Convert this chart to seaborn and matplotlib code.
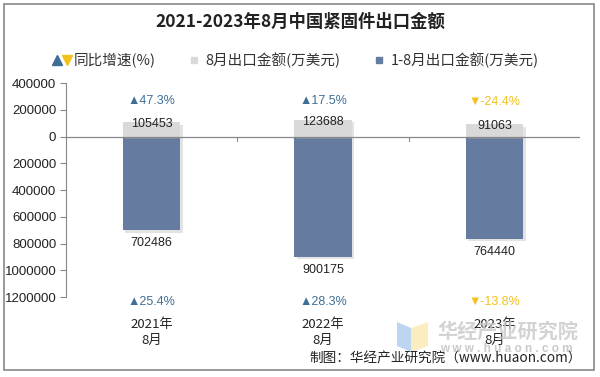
import matplotlib
matplotlib.use("Agg")
import matplotlib.pyplot as plt
import matplotlib.patheffects as pe
from matplotlib.lines import Line2D
from matplotlib.legend_handler import HandlerTuple
from matplotlib.patches import Rectangle, Polygon
import seaborn as sns
import pandas as pd

categories = ["2021年\n8月", "2022年\n8月", "2023年\n8月"]
aug_values = [105453, 123688, 91063]
ytd_values = [702486, 900175, 764440]
aug_growth = [47.3, 17.5, -24.4]
ytd_growth = [25.4, 28.3, -13.8]
yticks = [400000, 200000, 0, -200000, -400000, -600000, -800000, -1000000, -1200000]

sns.set_theme(style="white")
plt.rcParams['font.family'] = ['Liberation Sans', 'Noto Sans CJK SC', 'DejaVu Sans']
CJK = ['Noto Sans CJK SC', 'DejaVu Sans']

GRAY = "#d9d9d9"
BLUE = "#657ba0"
UP = "#3e6e96"
DOWN = "#f2c21b"

fig = plt.figure(figsize=(6.0, 3.77), dpi=100)
W, H = 600, 377
ax = fig.add_axes([66 / W, 1 - 297 / H, (580 - 66) / W, (297 - 83) / H])

df = pd.DataFrame({"cat": categories, "aug": aug_values,
                   "ytd_neg": [-v for v in ytd_values]})

shadow = [pe.SimplePatchShadow(offset=(1.8, -1.8), shadow_rgbFace="#b0b0b0", alpha=0.35), pe.Normal()]
sns.barplot(data=df, x="cat", y="ytd_neg", color=BLUE, width=0.335, ax=ax,
            saturation=1, zorder=2)
sns.barplot(data=df, x="cat", y="aug", color=GRAY, width=0.335, ax=ax,
            saturation=1, zorder=2)
for p in ax.patches:
    p.set_path_effects(shadow)
    p.set_edgecolor("none")

ax.set_ylim(-1200000, 400000)
ax.set_xlim(-0.5, len(categories) - 0.5)
ax.set_yticks(yticks)
ax.set_yticklabels([f"{abs(v)}" for v in yticks], fontsize=9.5, color="#222222")
ax.tick_params(axis='y', which='major', length=4, width=0.8, color="#888888", left=True, pad=3)
ax.tick_params(axis='x', length=0, pad=15)
ax.set_xticks(range(len(categories)))
ax.set_xticklabels(categories, fontsize=9.5, color="#222222", family=CJK, linespacing=1.3)
ax.set_xlabel("")
ax.set_ylabel("")
for s in ["top", "right", "bottom"]:
    ax.spines[s].set_visible(False)
ax.spines["left"].set_color("#888888")
ax.spines["left"].set_linewidth(0.8)
ax.axhline(0, color="#888888", lw=0.9, zorder=3)
for i in range(len(categories) - 1):
    ax.plot([i + 0.5, i + 0.5], [0, -30000], color="#888888", lw=0.8, zorder=3)

for i in range(len(categories)):
    ax.text(i, aug_values[i] - 15000, f"{aug_values[i]}", ha="center", va="center",
            fontsize=9, color="#222222", zorder=4)
    ax.text(i, -ytd_values[i] - 97000, f"{ytd_values[i]}", ha="center", va="center",
            fontsize=9, color="#222222", zorder=4)
    g = aug_growth[i]
    c = UP if g >= 0 else DOWN
    s = "▲" if g >= 0 else "▼"
    ax.text(i, 262000, f"{s}{g}%", ha="center", va="center", fontsize=9, color=c,
            family=['Liberation Sans', 'DejaVu Sans'])
    g = ytd_growth[i]
    c = UP if g >= 0 else DOWN
    s = "▲" if g >= 0 else "▼"
    ax.text(i, -1239000, f"{s}{g}%", ha="center", va="center", fontsize=9, color=c,
            family=['Liberation Sans', 'DejaVu Sans'], clip_on=False)

# title
fig.text(0.5, 1 - 22 / H, "2021-2023年8月中国紧固件出口金额", ha="center", va="center",
         fontsize=12.5, fontweight="bold", family=CJK, color="#222222")

# legend
h_tri = (Line2D([], [], marker="^", color=UP, ls="none", markersize=7),
         Line2D([], [], marker="v", color=DOWN, ls="none", markersize=7))
h_gray = Line2D([], [], marker="s", color=GRAY, ls="none", markersize=5)
h_blue = Line2D([], [], marker="s", color=BLUE, ls="none", markersize=5)
leg = fig.legend([h_tri, h_gray, h_blue], ["同比增速(%)", "8月出口金额(万美元)", "1-8月出口金额(万美元)"],
                 handler_map={tuple: HandlerTuple(ndivide=None, pad=0.1)},
                 loc="center", bbox_to_anchor=(0.493, 1 - 60 / H), ncol=3, frameon=False,
                 prop={"family": CJK, "size": 10.5}, handlelength=1.3, handletextpad=0.15,
                 columnspacing=2.0)
for t in leg.get_texts():
    t.set_color("#333333")

# watermark logo and text
fig.patches.append(Polygon([(397 / W, 1 - 322 / H), (411 / W, 1 - 328 / H), (411 / W, 1 - 352 / H), (397 / W, 1 - 346 / H)],
                           closed=True, transform=fig.transFigure, facecolor="#aecbee", edgecolor="none", alpha=0.8, zorder=0))
fig.patches.append(Polygon([(411 / W, 1 - 328 / H), (428 / W, 1 - 322 / H), (428 / W, 1 - 346 / H), (411 / W, 1 - 352 / H)],
                           closed=True, transform=fig.transFigure, facecolor="#fbe9b0", edgecolor="none", alpha=0.8, zorder=0))
fig.text(508 / W, 1 - 331 / H, "华经产业研究院", ha="center", va="center", fontsize=14.5,
         fontweight="bold", family=CJK, color="#c8c8c8", alpha=0.8, zorder=0)
fig.text(506 / W, 1 - 349 / H, "w w w . h u a o n . c o m", ha="center", va="center", fontsize=8.5,
         fontweight="bold", color="#c4c4c4", alpha=0.9, zorder=0)

# footer
fig.text(582 / W, 1 - 359 / H, "制图：华经产业研究院（www.huaon.com）", ha="right", va="center",
         fontsize=9.8, family=CJK, color="#222222")

# border
fig.patches.append(Rectangle((4 / W, 1 - 370 / H), (594 - 4) / W, (370 - 4) / H,
                             transform=fig.transFigure, fill=False, edgecolor="#888888", lw=1.2))

fig.savefig("out.png", dpi=100)
